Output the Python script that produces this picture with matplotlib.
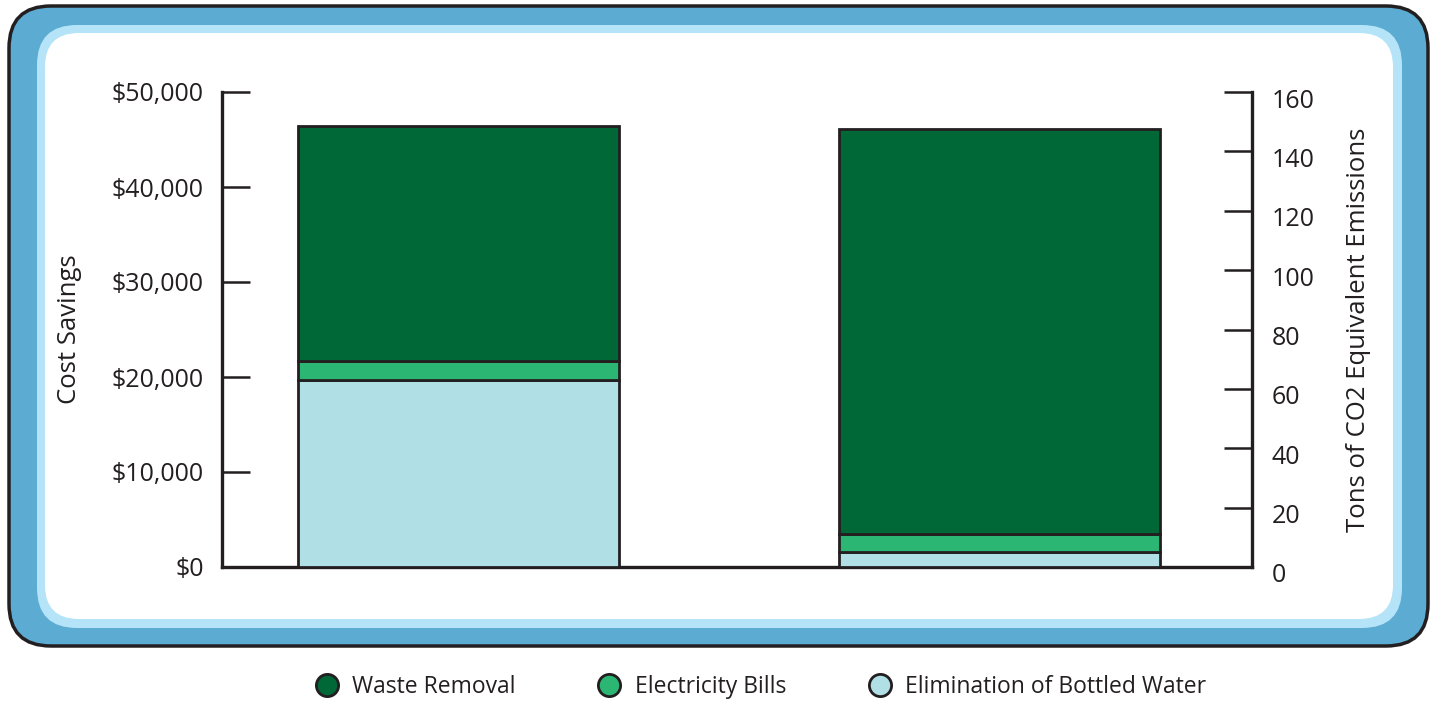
import matplotlib
matplotlib.use("Agg")
import matplotlib.pyplot as plt
import matplotlib.transforms as mtransforms
from matplotlib.patches import FancyBboxPatch
from matplotlib.lines import Line2D

plt.rcParams["font.family"] = ["Open Sans", "DejaVu Sans"]

# dados
series = ["Waste Removal", "Electricity Bills", "Elimination of Bottled Water"]
cores = ["#006837", "#2cb673", "#b0e0e5"]
custo = [24700, 2000, 19700]       # barra 1, eixo esquerdo ($)
emissoes = [136.5, 6.0, 5.0]       # barra 2, eixo direito (toneladas CO2e)
ticks_custo = [0, 10000, 20000, 30000, 40000, 50000]
labels_custo = ["$0", "$10,000", "$20,000", "$30,000", "$40,000", "$50,000"]
ticks_emissoes = [0, 20, 40, 60, 80, 100, 120, 140, 160]

W, H = 1435, 702
escuro = "#231f20"

fig = plt.figure(figsize=(W / 100, H / 100), dpi=100)

# moldura arredondada em coordenadas de pixel
bg = fig.add_axes([0, 0, 1, 1], zorder=-10)
bg.set_xlim(0, W)
bg.set_ylim(H, 0)
bg.axis("off")
bg.add_patch(FancyBboxPatch((9, 6), 1419, 640, boxstyle="round,pad=0,rounding_size=42",
                            fc="#5babd2", ec=escuro, lw=2.5))
bg.add_patch(FancyBboxPatch((37, 25), 1365, 603, boxstyle="round,pad=0,rounding_size=40",
                            fc="#b5e4f8", ec="none"))
bg.add_patch(FancyBboxPatch((45, 33), 1348, 586, boxstyle="round,pad=0,rounding_size=34",
                            fc="white", ec="none"))

# eixos do gráfico
x0, x1, ytop, ybot = 222, 1252, 92, 567
ax = fig.add_axes([x0 / W, 1 - ybot / H, (x1 - x0) / W, (ybot - ytop) / H])
ax.patch.set_alpha(0)
ax2 = ax.twinx()

largura = 0.594
ax.set_xlim(-0.4376, 1.468)

base = 0
for v, c in zip(custo[::-1], cores[::-1]):
    ax.bar(0, v, bottom=base, width=largura, color=c, edgecolor=escuro, linewidth=2.0, zorder=3)
    base += v
base = 0
for v, c in zip(emissoes[::-1], cores[::-1]):
    ax2.bar(1, v, bottom=base, width=largura, color=c, edgecolor=escuro, linewidth=2.0, zorder=3)
    base += v

ax.set_ylim(0, 50000)
ax2.set_ylim(0, 160)
ax.set_yticks(ticks_custo)
ax.set_yticklabels(labels_custo)
ax2.set_yticks(ticks_emissoes)
ax.set_xticks([])

for a in (ax, ax2):
    a.spines["top"].set_visible(False)
    for s in ("left", "right", "bottom"):
        a.spines[s].set_linewidth(2.4)
        a.spines[s].set_color(escuro)
ax.spines["right"].set_visible(False)
ax2.spines["left"].set_visible(False)
ax2.spines["bottom"].set_visible(False)

ax.tick_params(axis="y", direction="in", length=20, width=1.8, color=escuro, pad=13,
               labelsize=18, labelcolor=escuro)
ax2.tick_params(axis="y", direction="in", length=20, width=1.8, color=escuro, pad=14,
                labelsize=18, labelcolor=escuro)
desloc = mtransforms.ScaledTranslation(0, -6 / 100, fig.dpi_scale_trans)
for lbl in ax2.get_yticklabels():
    lbl.set_transform(lbl.get_transform() + desloc)

ax.set_ylabel("Cost Savings", fontsize=18.5, color=escuro)
ax.yaxis.set_label_coords(-0.136, 0.5)
ax2.set_ylabel("Tons of CO2 Equivalent Emissions", fontsize=18.5, color=escuro)
ax2.yaxis.set_label_coords(1.091, 0.5)

# legenda
handles = [Line2D([], [], marker="o", ls="none", markersize=16, markerfacecolor=c,
                  markeredgecolor=escuro, markeredgewidth=2) for c in cores]
fig.legend(handles, series, loc="center", bbox_to_anchor=(755 / W, 1 - 687 / H), ncol=3,
           frameon=False, fontsize=16.5, handletextpad=0.1, columnspacing=3.1,
           labelcolor=escuro)

fig.savefig("out.png", dpi=100)
